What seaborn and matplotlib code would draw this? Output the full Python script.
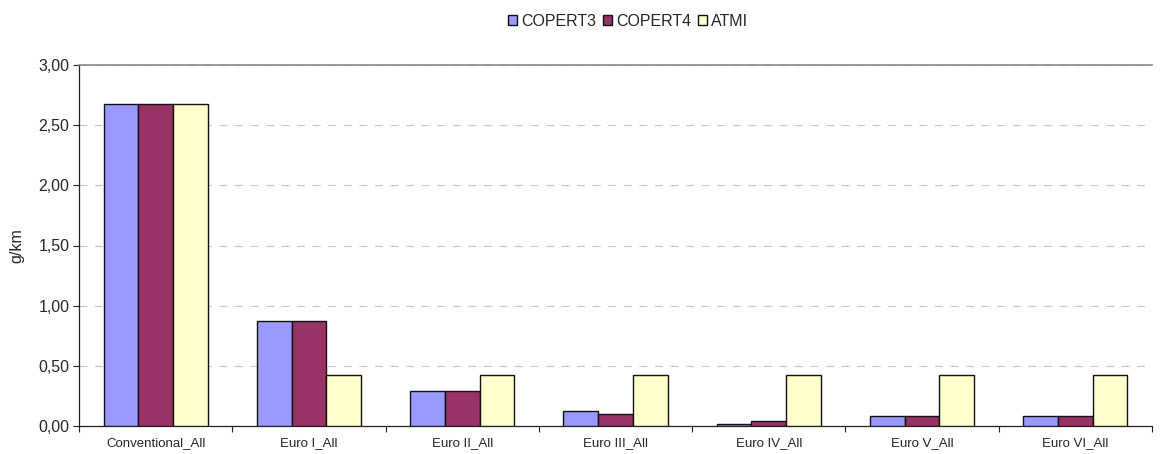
import matplotlib
matplotlib.use("Agg")
import matplotlib.pyplot as plt
import seaborn as sns
import pandas as pd
import numpy as np
from matplotlib.ticker import FuncFormatter, MultipleLocator

categories = ["Conventional_All", "Euro I_All", "Euro II_All", "Euro III_All",
              "Euro IV_All", "Euro V_All", "Euro VI_All"]
copert3 = [2.67, 0.87, 0.295, 0.124, 0.022, 0.083, 0.083]
copert4 = [2.67, 0.87, 0.295, 0.104, 0.041, 0.083, 0.083]
atmi = [2.67, 0.425, 0.425, 0.425, 0.425, 0.425, 0.425]
series = ["COPERT3", "COPERT4", "ATMI"]
colors = ["#9999FF", "#993366", "#FFFFCC"]

df = pd.DataFrame({
    "category": categories * 3,
    "value": copert3 + copert4 + atmi,
    "series": [s for s in series for _ in categories],
})

sns.set_style("white")
plt.rcParams['font.family'] = ['Liberation Sans', 'DejaVu Sans']

fig = plt.figure(figsize=(11.69, 4.54), dpi=100)
ax = fig.add_axes([79/1169, 1 - 426.3/454, (1152 - 79)/1169, (426.3 - 64.7)/454])

sns.barplot(data=df, x="category", y="value", hue="series", order=categories,
            hue_order=series, palette=colors, width=0.68, ax=ax,
            edgecolor="#111111", linewidth=1.0, saturation=1, legend=True, zorder=3)

ax.set_ylim(0, 3.0)
ax.set_xlim(-0.5, len(categories) - 0.5)
ax.yaxis.set_major_locator(MultipleLocator(0.5))
ax.yaxis.set_major_formatter(FuncFormatter(lambda v, p: f"{v:.2f}".replace(".", ",")))
ax.yaxis.grid(True, color="#C4C4C4", linestyle=(0, (7, 7)), linewidth=0.8, zorder=0)
ax.set_axisbelow(True)

ax.set_xticks(np.arange(len(categories)))
ax.set_xticklabels(categories)
ax.set_xticks(np.arange(len(categories) + 1) - 0.5, minor=True)
ax.tick_params(axis="x", which="major", bottom=False, length=0, labelsize=9.5, pad=8)
ax.tick_params(axis="x", which="minor", bottom=True, length=4, width=0.8,
               color="#222222", direction="out")
ax.tick_params(axis="y", left=True, length=4, width=0.8, color="#222222",
               direction="out", labelsize=11.5, pad=3)
ax.set_xlabel("")
ax.set_ylabel("g/km", fontsize=11.5, labelpad=10)

for s in ["left", "bottom"]:
    ax.spines[s].set_color("#222222")
    ax.spines[s].set_linewidth(0.9)
ax.spines["right"].set_visible(False)
ax.spines["top"].set_color("#888888")
ax.spines["top"].set_linewidth(1.2)

handles, labels = ax.get_legend_handles_labels()
ax.get_legend().remove()
fig.legend(handles, labels, loc="center", bbox_to_anchor=(628/1169, 1 - 21/454), ncol=3,
           frameon=False, fontsize=11.5, handlelength=0.6, handleheight=0.6,
           handletextpad=0.25, columnspacing=0.4, borderaxespad=0)

fig.savefig("out.png", dpi=100)
